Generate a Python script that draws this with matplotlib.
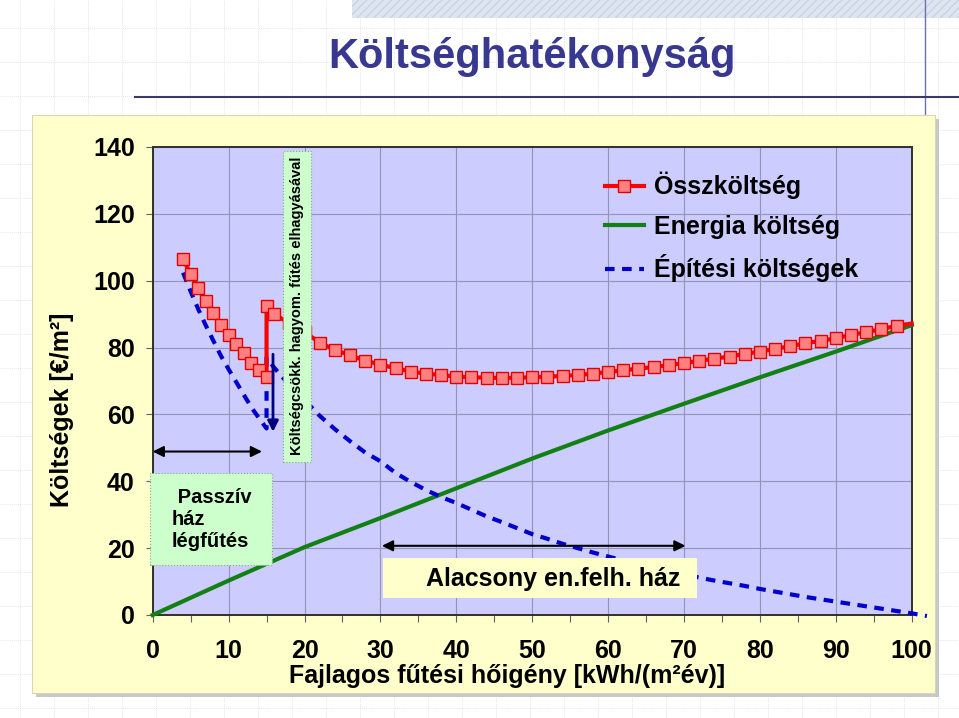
import numpy as np
import matplotlib
matplotlib.use("Agg")
import matplotlib.pyplot as plt
from matplotlib.patches import Rectangle
from matplotlib.lines import Line2D

plt.rcParams['font.family'] = ['Liberation Sans', 'DejaVu Sans']
plt.rcParams['font.weight'] = 'bold'

# DATA
x_total = [4, 5, 6, 7, 8, 9, 10, 11, 12, 13, 14, 15, 15, 16, 18, 20,
           22, 24, 26, 28, 30, 32, 34, 36, 38, 40, 42, 44, 46, 48, 50, 52, 54, 56, 58, 60,
           62, 64, 66, 68, 70, 72, 74, 76, 78, 80, 82, 84, 86, 88, 90, 92, 94, 96, 98, 100]
osszkoltseg = [106.5, 102.0, 97.7, 93.8, 90.2, 86.8, 83.8, 81.0, 78.3, 75.5, 73.3, 71.3, 92.3, 90.0, 87.3, 84.6,
               81.5, 79.3, 77.7, 76.1, 74.9, 73.8, 72.8, 72.2, 71.8, 71.3, 71.1, 71.0, 70.9, 71.0, 71.1, 71.3, 71.5, 71.8, 72.2, 72.7,
               73.2, 73.7, 74.2, 74.7, 75.4, 76.0, 76.7, 77.3, 78.1, 78.8, 79.6, 80.4, 81.3, 82.0, 82.8, 83.8, 84.6, 85.5, 86.5, 87.2]

x_energia = [0, 10, 20, 30, 40, 50, 60, 70, 80, 90, 100]
energia = [0, 10.3, 20.3, 29.0, 37.9, 46.8, 55.2, 63.2, 71.1, 78.8, 86.7]

x_epitesi = [4, 5, 6, 7, 8, 9, 10, 11, 12, 13, 14, 15, 15, 16, 18, 20,
             22, 24, 26, 28, 30, 32, 34, 36, 38, 40, 42, 44, 46, 48, 50, 52, 54, 56, 58, 60,
             62, 64, 66, 68, 70, 72, 74, 76, 78, 80, 82, 84, 86, 88, 90, 92, 94, 96, 98, 100, 102]
epitesi = [102.4, 96.8, 91.5, 86.6, 82.0, 77.5, 73.5, 69.7, 65.9, 62.1, 58.9, 55.8, 77.0, 74.0, 68.8, 64.3,
           59.6, 55.6, 52.0, 48.6, 46.0, 42.5, 39.8, 37.4, 35.3, 33.5, 31.5, 29.5, 27.8, 26.0, 24.2, 22.8, 21.3, 20.0, 18.7, 17.5,
           16.3, 15.2, 14.1, 13.1, 12.1, 11.2, 10.3, 9.5, 8.7, 7.8, 7.0, 6.2, 5.4, 4.7, 4.0, 3.3, 2.6, 1.9, 1.2, 0.5, -0.3]

x_ticks = [0, 10, 20, 30, 40, 50, 60, 70, 80, 90, 100]
y_ticks = [0, 20, 40, 60, 80, 100, 120, 140]

W, H = 959, 718
fig = plt.figure(figsize=(W / 100, H / 100), dpi=100)
fig.patch.set_facecolor('white')

# slide background grid
bg = fig.add_axes([0, 0, 1, 1])
bg.set_xlim(0, W)
bg.set_ylim(H, 0)
bg.axis('off')
for gx in np.arange(20, W, 34):
    bg.axvline(gx, color='#E6E6E6', lw=0.7, ls=(0, (1, 1)), zorder=0)
for gy in np.arange(28, H, 34):
    bg.axhline(gy, color='#E6E6E6', lw=0.7, ls=(0, (1, 1)), zorder=0)
bg.add_patch(Rectangle((352, 0), W - 352, 18, facecolor='#DDE5F0', edgecolor='#C8D4E4',
                       hatch='////', lw=0, zorder=1))
bg.plot([925, 925], [0, 115], color='#7070B0', lw=1, zorder=1)
bg.plot([135, W], [97, 97], color='#3A3A6A', lw=1.5, zorder=1)
bg.text(532, 57, 'Költséghatékonyság', color='#383890', fontsize=30, fontweight='bold',
        ha='center', va='center', zorder=2)
# beige panel with shadow
bg.add_patch(Rectangle((36, 119), 903, 578, facecolor='#C8C8C8', edgecolor='none', zorder=1))
bg.add_patch(Rectangle((32, 115), 903, 578, facecolor='#FFFFCC', edgecolor='#D8D8B0', lw=0.8, zorder=2))
# legend box
bg.add_patch(Rectangle((583, 157), 317, 126, facecolor='#FFFFCC', edgecolor='#D0D0A8', lw=0.8, zorder=8))

# plot axes
left, right, top, bottom = 152.7, 911.7, 147, 615
ax = fig.add_axes([left / W, 1 - bottom / H, (right - left) / W, (bottom - top) / H])
ax.set_facecolor('#CCCCFF')
ax.set_xlim(0, 100)
ax.set_ylim(0, 140)
ax.set_xticks(x_ticks)
ax.set_xticks(np.arange(5, 100, 10), minor=True)
ax.set_yticks(y_ticks)
ax.grid(True, which='major', color='#9494B8', lw=0.8)
for s in ax.spines.values():
    s.set_color('#303030')
    s.set_linewidth(1.4)
ax.tick_params(axis='both', which='both', direction='out', length=5, color='#606060', width=0.8)
ax.tick_params(axis='y', labelsize=18, pad=8)
ax.tick_params(axis='x', labelsize=18, pad=12)
for lab in ax.get_xticklabels() + ax.get_yticklabels():
    lab.set_fontweight('bold')
ax.set_xlabel('Fajlagos fűtési hőigény [kWh/(m²év)]', fontsize=18, fontweight='bold')
ax.xaxis.set_label_coords((507 - left) / (right - left), (bottom - 676) / (bottom - top))
ax.xaxis.label.set_va('center')
ax.set_ylabel('Költségek [€/m²]', fontsize=18, fontweight='bold')
ax.yaxis.set_label_coords((62 - left) / (right - left), (bottom - 410) / (bottom - top))
ax.yaxis.label.set_va('center')

ax.plot(x_energia, energia, color='#138013', lw=3, zorder=3, clip_on=False)
ax.plot(x_epitesi, epitesi, color='#0000CC', lw=3, dashes=(2.3, 1.8), zorder=3, clip_on=False)
ax.plot(x_total, osszkoltseg, color='#FF0000', lw=3, marker='s', markersize=8,
        markerfacecolor='#FF8080', markeredgecolor='#E00000', markeredgewidth=1,
        markevery=list(range(len(x_total) - 1)), zorder=4, clip_on=False)

# annotations
ax.add_patch(Rectangle((17.2, 45.9), 3.7, 93.0, facecolor='#CCFFCC', edgecolor='#88AA88',
                       lw=0.8, ls=':', zorder=5))
ax.text(19.05, 92.4, 'Költségcsökk. hagyom. fűtés elhagyásával', rotation=90, fontsize=10.5,
        fontweight='bold', ha='center', va='center', zorder=6)

ax.add_patch(Rectangle((-0.4, 15.0), 16.1, 27.6, facecolor='#CCFFCC', edgecolor='#88AA88',
                       lw=0.8, ls=':', zorder=5, clip_on=False))
ax.text(2.5, 28.6, ' Passzív\nház\nlégfűtés', fontsize=14.5, fontweight='bold', ha='left', va='center',
        linespacing=1.2, zorder=6)

ax.add_patch(Rectangle((30.3, 5.1), 41.4, 12.0, facecolor='#FFFFCC', edgecolor='none', zorder=5))
ax.text(52.7, 10.9, 'Alacsony en.felh. ház', fontsize=18, fontweight='bold', ha='center', va='center', zorder=6)

ax.annotate('', xy=(0, 48.9), xytext=(14.4, 48.9),
            arrowprops=dict(arrowstyle='<|-|>', color='black', lw=1.5, mutation_scale=16, shrinkA=0, shrinkB=0),
            zorder=6)
ax.annotate('', xy=(30.2, 20.7), xytext=(70.2, 20.7),
            arrowprops=dict(arrowstyle='<|-|>', color='black', lw=1.5, mutation_scale=16, shrinkA=0, shrinkB=0),
            zorder=6)
ax.annotate('', xy=(15.85, 54.8), xytext=(15.85, 78.0),
            arrowprops=dict(arrowstyle='-|>', color='#000080', lw=2, mutation_scale=16, shrinkA=0, shrinkB=0),
            zorder=6)

handles = [Line2D([], [], color='#FF0000', lw=3, marker='s', markersize=8, markerfacecolor='#FF8080',
                  markeredgecolor='#E00000'),
           Line2D([], [], color='#138013', lw=3),
           Line2D([], [], color='#0000CC', lw=3, dashes=(2.3, 1.8))]
leg = fig.legend(handles, ['Összköltség', 'Energia költség', 'Építési költségek'],
                 loc='upper left', bbox_to_anchor=(585 / W, 1 - 152 / H),
                 prop={'size': 18, 'weight': 'bold'}, handlelength=1.55, handletextpad=0.4,
                 labelspacing=0.62, borderpad=0.3, frameon=False)
leg.set_zorder(9)

fig.savefig('out.png', dpi=100)
